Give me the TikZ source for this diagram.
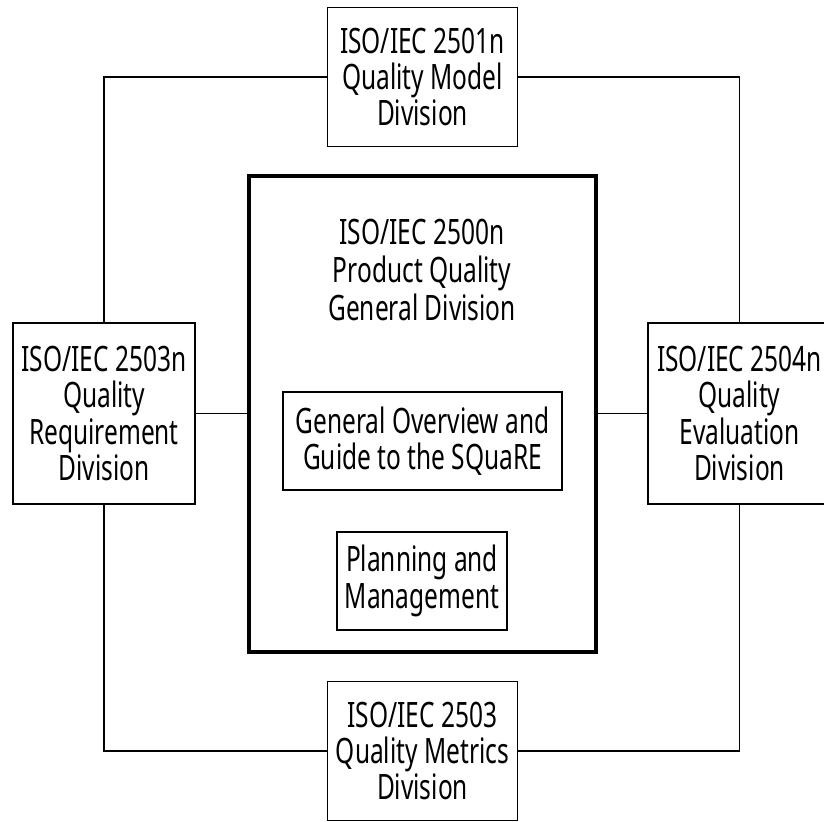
\documentclass[tikz,border=0pt]{standalone}
\usepackage{fontspec}
\setmainfont{Noto Sans}[FakeStretch=0.70]
\usepackage{tikz}
\usetikzlibrary{positioning, calc}

\begin{document}
\begin{tikzpicture}[
                div/.style  ={draw, line width=1.1pt, minimum width=3.80cm,
                        minimum height=2.78cm, inner sep=2pt, align=center,
                        font=\fontsize{19.9}{20.6}\selectfont},
                side/.style ={div, minimum width=3.65cm, minimum height=3.62cm},
                grp/.style  ={draw, line width=2pt, minimum width=6.94cm,
                        minimum height=9.52cm},
                sub/.style  ={div, minimum height=1.96cm},
                lbl/.style  ={align=center, font=\fontsize{19.9}{21.8}\selectfont},
                lnk/.style  ={line width=1.1pt}
            ]
            \clip (0,0) rectangle (16.48,16.42);

            %% ---- CENTRE: general division with its two parts -----------------
            \node[grp] (gen) at (8.45,8.14) {};
            \node[lbl] (gent) at (8.44,11.02) {ISO/IEC 2500n\\Product Quality\\General Division};
            \node[sub, minimum width=5.58cm] (guide) at (8.45,7.60) {General Overview and\\Guide to the SQuaRE};
            \node[sub, minimum width=3.40cm] (plan) at (8.44,4.80) {Planning and\\Management};

            %% ---- OUTER divisions --------------------------------------------
            \node[div]  (model) at (8.45,14.88) {ISO/IEC 2501n\\Quality Model\\Division};
            \node[div]  (metr)  at (8.45,1.40)  {ISO/IEC 2503\\Quality Metrics\\Division};
            \node[side] (req)   at (2.08,8.15)  {ISO/IEC 2503n\\Quality\\Requirement\\Division};
            \node[side] (eval)  at (14.79,8.15) {ISO/IEC 2504n\\Quality\\Evaluation\\Division};

            %% ---- ring round the centre, and the two side links --------------
            \draw[lnk] (model.west) -| (req.north);
            \draw[lnk] (model.east) -| (eval.north);
            \draw[lnk] (req.south) |- (metr.west);
            \draw[lnk] (eval.south) |- (metr.east);
            \draw[lnk] (req.east) -- (req.east -| gen.west);
            \draw[lnk] (eval.west) -- (eval.west -| gen.east);

        \end{tikzpicture}
\end{document}
